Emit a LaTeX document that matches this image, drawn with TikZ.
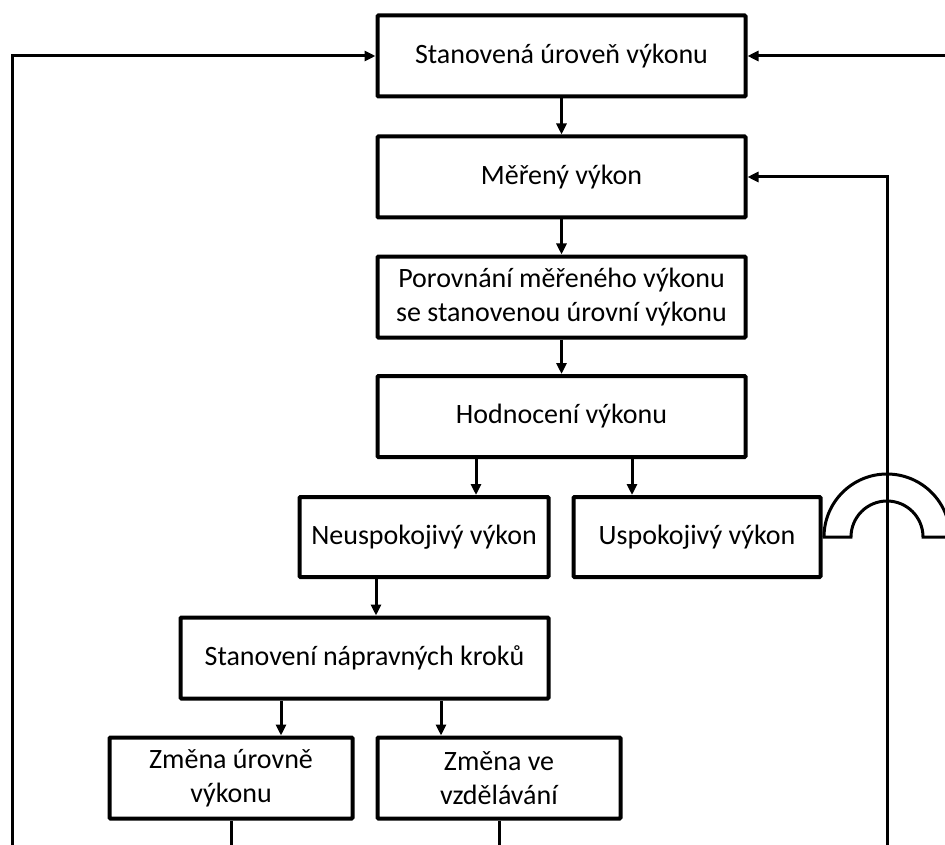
\documentclass[tikz,border=0pt]{standalone}
\usepackage{fontspec}
\setmainfont{Carlito}
\usetikzlibrary{arrows.meta}
\begin{document}
\begin{tikzpicture}[x=1pt,y=1pt,
  box/.style={draw, line width=4pt, rounded corners=1pt, align=center, inner sep=0pt,
    font=\fontsize{28}{34}\selectfont},
  wide/.style={box, minimum width=368pt, minimum height=81pt},
  half/.style={box, minimum width=246pt, minimum height=80pt},
  arr/.style={line width=3pt, -{Triangle[length=11pt,width=10pt]}},
  ln/.style={line width=3pt}]
\useasboundingbox (0,0) rectangle (945,-845);
\node[wide] (b1) at (561.5,-56) {Stanovená úroveň výkonu};
\node[wide] (b2) at (561.5,-177) {Měřený výkon};
\node[wide] (b3) at (561.5,-297) {Porovnání měřeného výkonu\\se stanovenou úrovní výkonu};
\node[wide] (b4) at (561.5,-416.5) {Hodnocení výkonu};
\node[half, minimum width=249pt] (b5) at (424,-537) {Neuspokojivý výkon};
\node[half, minimum width=247pt] (b6) at (697,-537) {Uspokojivý výkon};
\node[wide] (b7) at (364.5,-658) {Stanovení nápravných kroků};
\node[half, minimum width=243pt, minimum height=81pt] (b8) at (231,-778) {Změna úrovně\\výkonu};
\node[half, minimum width=243pt, minimum height=81pt] (b9) at (499,-778) {Změna ve\\vzdělávání};
\coordinate (bottom) at (0,-845);
\coordinate (c476) at (476,0);
\coordinate (c632) at (632,0);
\coordinate (c376) at (376,0);
\coordinate (c281) at (281,0);
\coordinate (c441) at (441,0);
\coordinate (lb) at (12,-845);
\coordinate (rt) at (945,-56);
\coordinate (rb) at (887,-845);
\draw[arr] (b1) -- (b2);
\draw[arr] (b2) -- (b3);
\draw[arr] (b3) -- (b4);
\draw[arr] (b4.south -| c476) -- (b5.north -| c476);
\draw[arr] (b4.south -| c632) -- (b6.north -| c632);
\draw[arr] (b5.south -| c376) -- (b7.north -| c376);
\draw[arr] (b7.south -| c281) -- (b8.north -| c281);
\draw[arr] (b7.south -| c441) -- (b9.north -| c441);
\draw[ln] (b8.south) -- (b8.south |- bottom);
\draw[ln] (b9.south) -- (b9.south |- bottom);
\draw[arr] (lb) |- (b1.west);
\draw[arr] (rt) -- (b1.east);
\draw[arr] (rb) |- (b2.east);
% hop over vertical line
\draw[ln] (b6.east) -- (851,-537) arc[start angle=180, end angle=0, radius=36] -- (945,-537);
\draw[ln] (824,-537) arc[start angle=180, end angle=0, radius=63];
\end{tikzpicture}
\end{document}
